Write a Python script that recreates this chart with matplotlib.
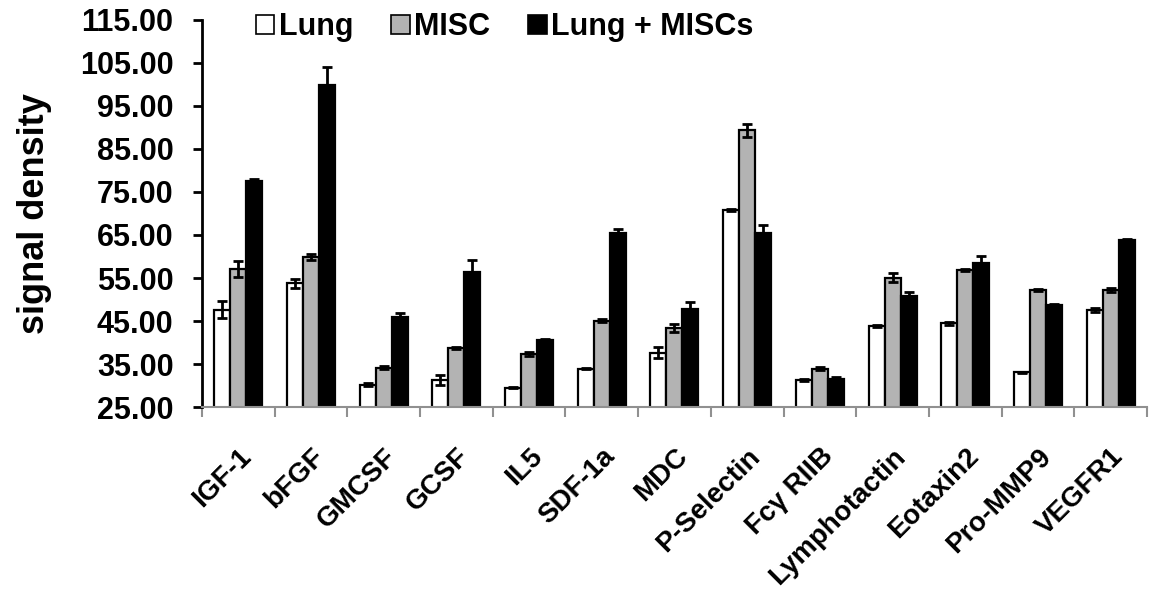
import numpy as np
import matplotlib
matplotlib.use('Agg')
import matplotlib.pyplot as plt
from matplotlib.patches import Patch
from matplotlib.ticker import FormatStrFormatter

plt.rcParams['font.family'] = ['Liberation Sans', 'DejaVu Sans']
plt.rcParams['font.weight'] = 'bold'

categories = ['IGF-1', 'bFGF', 'GMCSF', 'GCSF', 'IL5', 'SDF-1a', 'MDC',
              'P-Selectin', 'Fc\u03b3 RIIB', 'Lymphotactin', 'Eotaxin2',
              'Pro-MMP9', 'VEGFR1']

lung = [47.7, 53.8, 30.3, 31.3, 29.6, 34.0, 37.7, 70.8, 31.3, 43.9, 44.5, 33.1, 47.6]
misc = [57.1, 59.9, 34.2, 38.7, 37.4, 45.1, 43.5, 89.3, 34.0, 55.1, 56.9, 52.2, 52.2]
lung_misc = [77.6, 99.8, 46.0, 56.5, 40.6, 65.5, 47.9, 65.5, 31.7, 50.9, 58.6, 48.7, 63.8]

lung_err = [2.0, 1.1, 0.3, 1.2, 0.2, 0.2, 1.2, 0.3, 0.2, 0.3, 0.4, 0.2, 0.5]
misc_err = [1.8, 0.8, 0.3, 0.2, 0.5, 0.3, 0.9, 1.5, 0.3, 1.1, 0.3, 0.3, 0.4]
lung_misc_err = [0.3, 4.1, 0.8, 2.6, 0.3, 0.9, 1.5, 1.8, 0.3, 0.9, 1.5, 0.3, 0.3]

series = [('Lung', lung, lung_err, 'white'),
          ('MISC', misc, misc_err, '#b3b3b3'),
          ('Lung + MISCs', lung_misc, lung_misc_err, 'black')]

fig = plt.figure(figsize=(11.51, 6), dpi=100)
ax = fig.add_axes([0.1755, 0.321, 0.821, 0.6465])

x = np.arange(len(categories))
width = 0.22
for i, (name, vals, errs, color) in enumerate(series):
    pos = x + (i - 1) * width
    ax.bar(pos, vals, width, color=color, edgecolor='black', linewidth=1.6,
           zorder=2)
    ax.errorbar(pos, vals, yerr=errs, fmt='none', ecolor='black',
                elinewidth=2, capsize=3.5, capthick=2, zorder=3)

ax.set_ylim(25, 115)
ax.set_yticks(np.arange(25, 116, 10))
ax.yaxis.set_major_formatter(FormatStrFormatter('%.2f'))
ax.set_xlim(-0.5, len(categories) - 0.5)

ax.set_xticks(x)
ax.set_xticklabels(categories, rotation=45, ha='right', va='top',
                   rotation_mode='anchor', fontsize=20, fontweight='bold')
ax.set_xticks(np.arange(-0.5, len(categories), 1), minor=True)
ax.tick_params(axis='x', which='major', length=0, pad=26)
ax.tick_params(axis='x', which='minor', length=7, width=1.5, color='#909090')
ax.tick_params(axis='y', length=6.5, width=2, color='black', labelsize=22,
               pad=14)

for s in ['top', 'right']:
    ax.spines[s].set_visible(False)
ax.spines['left'].set_linewidth(2)
ax.spines['bottom'].set_color('#909090')
ax.spines['bottom'].set_linewidth(1.5)

ax.set_ylabel('signal density', fontsize=26, fontweight='bold', labelpad=20)

handles = [Patch(facecolor=c, edgecolor='black', linewidth=1.2)
           for _, _, _, c in series]
fig.legend(handles, [s[0] for s in series], loc='center',
           bbox_to_anchor=(0.4385, 0.955), ncol=3, frameon=False,
           fontsize=22, handlelength=0.6, handleheight=0.6,
           handletextpad=0.15, columnspacing=1.25)

fig.savefig('out.png', dpi=100)
